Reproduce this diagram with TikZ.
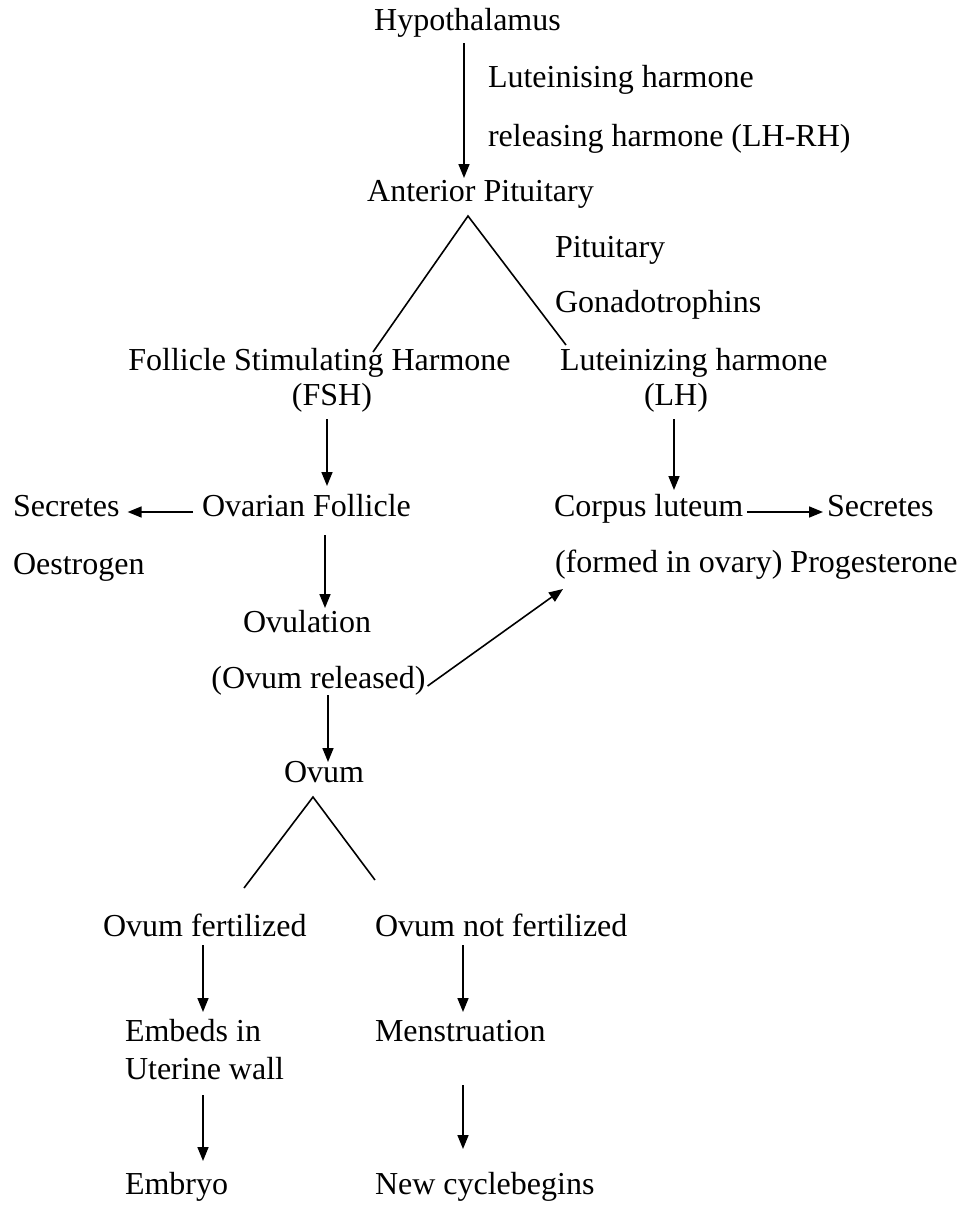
\documentclass[tikz,border=0pt]{standalone}
\usepackage{fontspec}
\setmainfont{Liberation Serif}
\usetikzlibrary{arrows.meta}
\tikzset{
  txt/.style={inner sep=0pt, outer sep=0pt, font=\fontsize{32}{38}\selectfont},
  conn/.style={line width=1.6pt},
  arr/.style={line width=1.6pt, -{Triangle[length=14pt,width=11pt]}}
}
\begin{document}
\begin{tikzpicture}[x=1pt,y=-1pt]
\useasboundingbox (0,0) rectangle (979,1205);
\fill[white] (0,0) rectangle (979,1205);
% nodes
\node[txt,anchor=base] (hyp) at (467.5,30) {Hypothalamus};
\node[txt,anchor=base west] (lh1) at (488,87) {Luteinising harmone};
\node[txt,anchor=base west] (lh2) at (488,146) {releasing harmone (LH-RH)};
\node[txt,anchor=base] (ant) at (480.5,201) {Anterior Pituitary};
\node[txt,anchor=base west] (pit) at (555,257) {Pituitary};
\node[txt,anchor=base west] (gon) at (555,312) {Gonadotrophins};
\node[txt,anchor=base] (fsh1) at (319.5,370) {Follicle Stimulating Harmone};
\node[txt,anchor=base] (fsh2) at (332,405) {(FSH)};
\node[txt,anchor=base west] (lh3) at (560,370) {Luteinizing harmone};
\node[txt,anchor=base] (lh4) at (676,405) {(LH)};
\node[txt,anchor=base west] (sec1) at (13,516) {Secretes};
\node[txt,anchor=base west] (ovf) at (202,516) {Ovarian Follicle};
\node[txt,anchor=base west] (oes) at (13,574) {Oestrogen};
\node[txt,anchor=base west] (cl) at (554,516) {Corpus luteum};
\node[txt,anchor=base west] (sec2) at (827,516) {Secretes};
\node[txt,anchor=base west] (form) at (555,572) {(formed in ovary) Progesterone};
\node[txt,anchor=base] (ovl) at (307,632) {Ovulation};
\node[txt,anchor=base] (ovr) at (318.5,688) {(Ovum released)};
\node[txt,anchor=base] (ovum) at (324,782) {Ovum};
\node[txt,anchor=base west] (of) at (103,936) {Ovum fertilized};
\node[txt,anchor=base west] (onf) at (375,936) {Ovum not fertilized};
\node[txt,anchor=base west] (emb) at (125,1041) {Embeds in};
\node[txt,anchor=base west] (uw) at (125,1079) {Uterine wall};
\node[txt,anchor=base west] (men) at (375,1041) {Menstruation};
\node[txt,anchor=base west] (embryo) at (125,1194) {Embryo};
\node[txt,anchor=base west] (ncb) at (375,1194) {New cyclebegins};
% connectors
\draw[arr] ([shift={(-3.5,13)}]hyp.base) -- ([shift={(-16.5,-23)}]ant.base);
\draw[conn] ([shift={(53.5,-18)}]fsh1.base) -- ([shift={(-12.5,15)}]ant.base) -- ([shift={(6,-25)}]lh3.base west);
\draw[arr] ([shift={(-5,14)}]fsh2.base) -- ([shift={(125,-30)}]ovf.base west);
\draw[arr] ([shift={(-2,14)}]lh4.base) -- ([shift={(120,-26)}]cl.base west);
\draw[arr] ([shift={(-9,-4)}]ovf.base west) -- ([shift={(8,-4)}]sec1.base east);
\draw[arr] ([shift={(4,-4)}]cl.base east) -- ([shift={(-4,-4)}]sec2.base west);
\draw[arr] ([shift={(123,19)}]ovf.base west) -- ([shift={(18,-24)}]ovl.base);
\draw[arr] ([shift={(2,-2)}]ovr.base east) -- ([shift={(8,17)}]form.base west);
\draw[arr] ([shift={(9.5,7)}]ovr.base) -- ([shift={(4,-20)}]ovum.base);
\draw[conn] ([shift={(141,-48)}]of.base west) -- ([shift={(-11,15)}]ovum.base) -- ([shift={(0,-56)}]onf.base west);
\draw[arr] ([shift={(100,9)}]of.base west) -- ([shift={(78,-29)}]emb.base west);
\draw[arr] ([shift={(88,9)}]onf.base west) -- ([shift={(88,-29)}]men.base west);
\draw[arr] ([shift={(78,16)}]uw.base west) -- ([shift={(78,-33)}]embryo.base west);
\draw[arr] ([shift={(88,44)}]men.base west) -- ([shift={(88,-45)}]ncb.base west);
\end{tikzpicture}
\end{document}
